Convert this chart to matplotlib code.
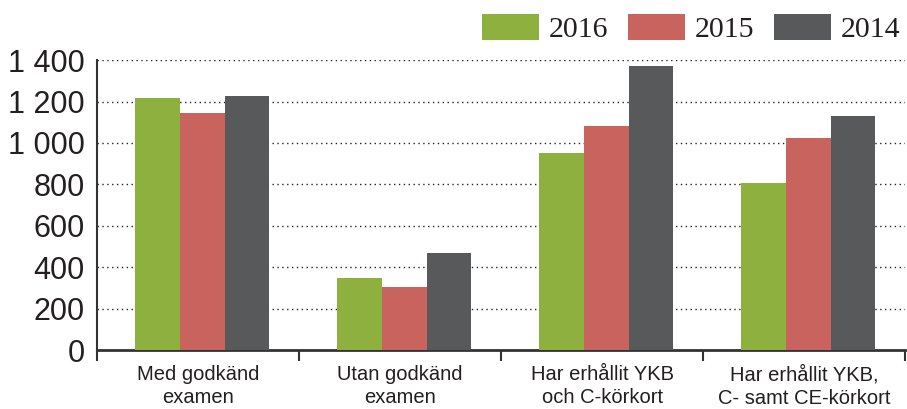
import matplotlib
matplotlib.use("Agg")
import matplotlib.pyplot as plt
import numpy as np
from matplotlib.ticker import FuncFormatter

categories = ["Med godkänd\nexamen", "Utan godkänd\nexamen",
              "Har erhållit YKB\noch C-körkort", "Har erhållit YKB,\nC- samt CE-körkort"]
years = ["2016", "2015", "2014"]
v2016 = [1215, 349, 953, 808]
v2015 = [1147, 303, 1080, 1022]
v2014 = [1226, 468, 1371, 1130]
colors = ["#8db03f", "#c8635e", "#58595b"]

sans = ["Liberation Sans", "DejaVu Sans"]
serif = ["Liberation Serif", "DejaVu Serif"]

fig = plt.figure(figsize=(9.07, 4.09), dpi=100)
ax = fig.add_axes([0.107, 0.144, 0.891, 0.709])

x = np.arange(len(categories))
w = 0.222
for i, (vals, lab) in enumerate(zip([v2016, v2015, v2014], years)):
    ax.bar(x + (i - 1) * w + 0.02, vals, w, color=colors[i], label=lab, zorder=3)

ax.set_xlim(-0.5, len(categories) - 0.5)
ax.set_ylim(0, 1400)
ax.set_yticks(range(0, 1401, 200))
ax.yaxis.set_major_formatter(FuncFormatter(lambda v, p: f"{int(v):,}".replace(",", " ")))
ax.grid(axis="y", ls=(0, (1, 2.5)), color="#222222", lw=1.0, zorder=0)

ax.set_xticks(x)
ax.set_xticklabels(categories, family=sans, fontsize=14.5, color="#231f20", linespacing=1.25)
ax.set_xticks(np.arange(-0.5, len(categories), 1), minor=True)
ax.tick_params(axis="x", which="major", length=0, pad=11)
ax.tick_params(axis="x", which="minor", length=8, width=1.5, color="#333333")
ax.tick_params(axis="y", length=0, pad=9)
for t in ax.get_yticklabels():
    t.set_family(sans)
    t.set_fontsize(22)
    t.set_color("#231f20")

for s in ["top", "right"]:
    ax.spines[s].set_visible(False)
ax.spines["left"].set_color("#333333")
ax.spines["left"].set_linewidth(1.5)
ax.spines["bottom"].set_color("#333333")
ax.spines["bottom"].set_linewidth(2)

leg = fig.legend(loc="upper right", bbox_to_anchor=(0.993, 0.965), ncol=3, frameon=False,
                 prop={"family": serif, "size": 21.5}, handlelength=1.9, handleheight=0.95,
                 handletextpad=0.33, columnspacing=0.67, borderpad=0, borderaxespad=0)
for t in leg.get_texts():
    t.set_color("#231f20")

fig.savefig("out.png", dpi=100)
